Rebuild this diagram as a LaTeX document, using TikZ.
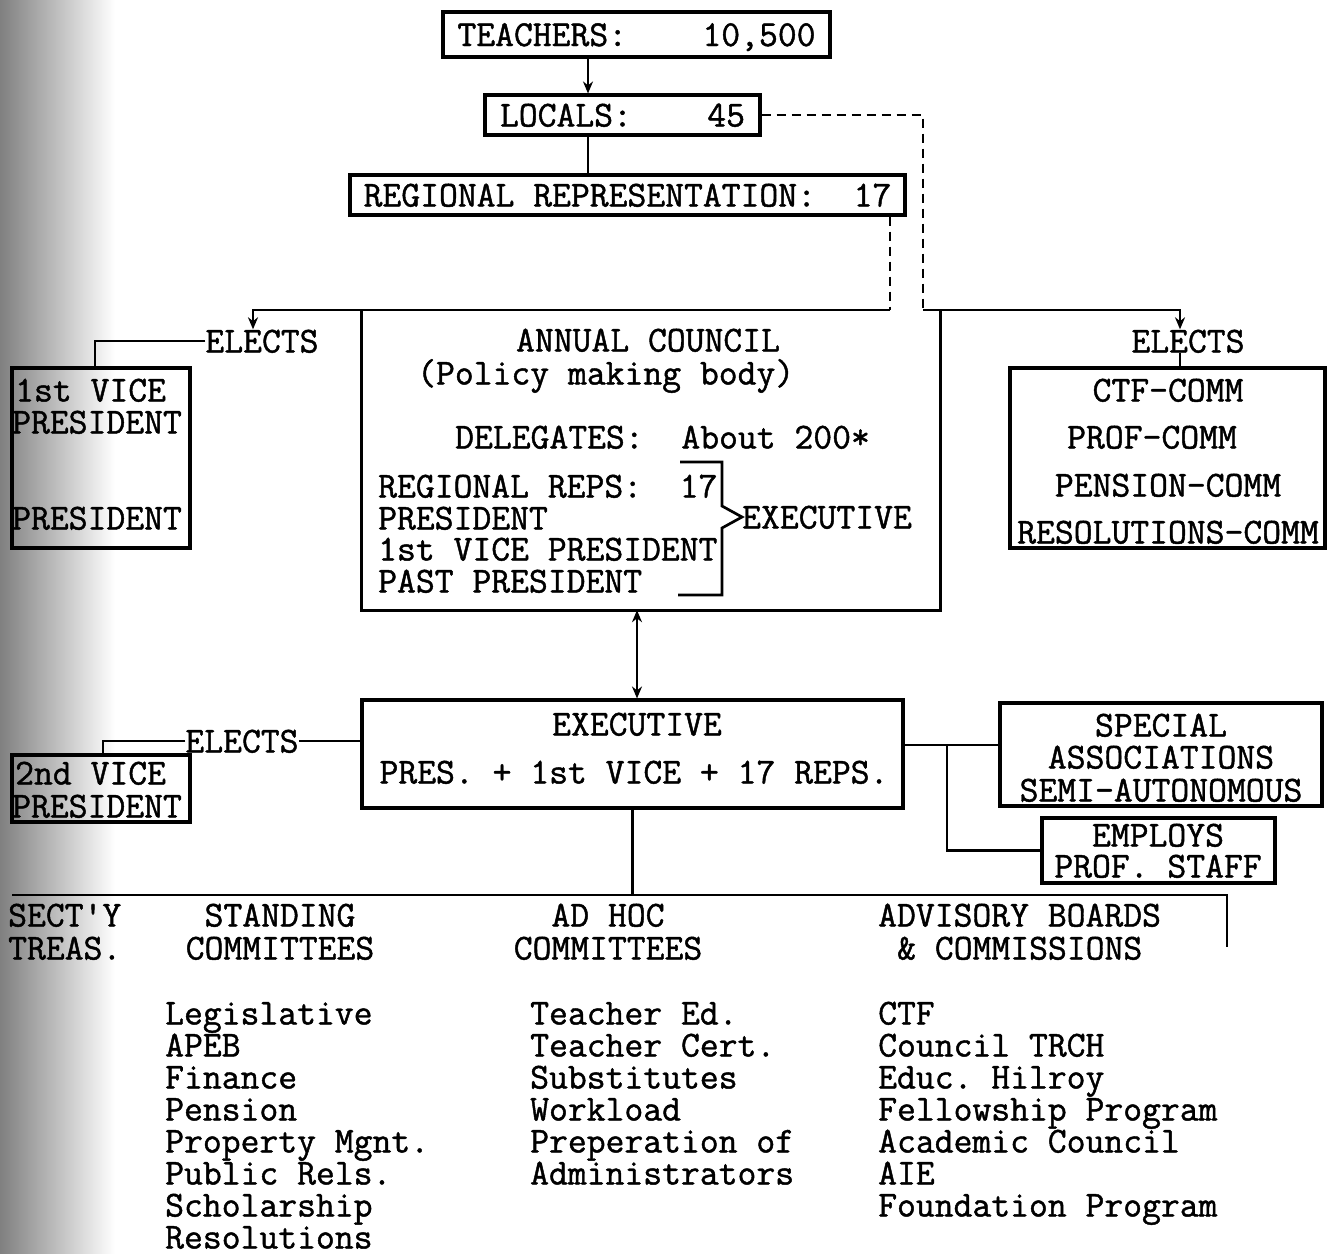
\documentclass[tikz,border=0pt]{standalone}
\usepackage{fontspec}
\setmonofont{Latin Modern Mono}[FakeBold=1.2]
\usetikzlibrary{arrows.meta}
\newcommand\tw{\fontsize{36.6}{32}\selectfont\ttfamily\frenchspacing}
\tikzset{
  txt/.style={font=\tw, inner sep=0pt, text height=23pt, text depth=0pt},
  boxnode/.style={draw, line width=3.1pt, inner sep=0pt, font=\tw, text height=23pt, text depth=0pt},
  blank/.style={inner sep=0pt},
  conn/.style={line width=2.7pt},
  boxline/.style={line width=3.1pt},
  tip/.style={-{Stealth[length=12pt,width=10pt]}},
  dtip/.style={{Stealth[length=12pt,width=10pt]}-{Stealth[length=12pt,width=10pt]}},
  dashline/.style={line width=2.7pt, dash pattern=on 9pt off 6pt},
}
\begin{document}
\begin{tikzpicture}[x=1pt,y=-1pt]
\useasboundingbox (0,0) rectangle (1337,1253);
\fill[white] (0,0) rectangle (1337,1253);
\shade[left color=black!50, right color=white] (0,0) rectangle (115,1253);

% coordinates
\coordinate (spine) at (588,0);
\coordinate (dr) at (890,0);
\coordinate (cornerL) at (890,310);
\coordinate (cornerR) at (923,310);
\coordinate (spine2) at (637,0);
\coordinate (jr) at (947,745);
\coordinate (hl) at (12,895);
\coordinate (hr) at (1227,895);
\coordinate (hre) at (1227,947);

% top chain
\node[boxnode, minimum width=387pt, minimum height=45pt] (teach) at (636.5,34.5) {TEACHERS:\ \ \ \ 10,500};
\node[boxnode, minimum width=275pt, minimum height=40pt] (locals) at (622.5,115) {LOCALS:\ \ \ \ 45};
\node[boxnode, minimum width=555pt, minimum height=40pt] (regional) at (627.5,195) {REGIONAL REPRESENTATION:\ \ 17};

\draw[conn,tip] (teach.south -| spine) -- (locals.north -| spine);
\draw[conn] (locals.south -| spine) -- (regional.north -| spine);

% annual council
\node[blank, minimum width=578pt, minimum height=300pt] (council) at (651,460) {};
\draw[boxline] (council.north west) -- (council.south west) -- (council.south east) -- (council.north east);
\node[txt] (ac1) at (648,340) {ANNUAL COUNCIL};
\node[txt, anchor=west] (ac2) at (417,373) {(Policy making body)};
\node[txt, anchor=west] (ac3) at (455,437) {DELEGATES:\ \ About 200*};
\node[txt, anchor=west] (ac4) at (378,486) {REGIONAL REPS:\ \ 17};
\node[txt, anchor=west] (ac5) at (378,518) {PRESIDENT};
\node[txt, anchor=west] (ac6) at (378,549) {1st VICE PRESIDENT};
\node[txt, anchor=west] (ac7) at (378,581) {PAST PRESIDENT};
\node[txt, anchor=west] (acx) at (742,517) {EXECUTIVE};
\draw[conn] (680,462) -- (722,462) -- (722,506) -- (acx.west) -- (722,528) -- (722,595) -- (678,595);

% dashed links
\draw[dashline] (regional.south -| dr) -- (cornerL);
\draw[dashline] (locals.east) -| (cornerR);

% left elects (annual council)
\node[txt] (el1) at (262,341) {ELECTS};
\node[boxnode, minimum width=178pt, minimum height=180pt] (vp1) at (101,458) {};
\node[txt, anchor=west] (vp1a) at (15,390) {1st VICE};
\node[txt, anchor=west] (vp1b) at (12,422) {PRESIDENT};
\node[txt, anchor=west] (vp1c) at (12,518) {PRESIDENT};
\draw[conn,tip] (cornerL) -| ([xshift=-9pt]el1.north);
\draw[conn] (el1.west) -| ([xshift=-6pt]vp1.north);

% right elects
\node[txt] (el2) at (1188,341) {ELECTS};
\node[boxnode, minimum width=315pt, minimum height=180pt] (comm) at (1167.5,458) {};
\node[txt] (c1) at (1168,390) {CTF-COMM};
\node[txt] (c2) at (1152,437) {PROF-COMM};
\node[txt] (c3) at (1168,485) {PENSION-COMM};
\node[txt] (c4) at (1168,532) {RESOLUTIONS-COMM};
\draw[conn,tip] (cornerR) -| ([xshift=-8pt]el2.north);
\draw[conn] ([xshift=-8pt]el2.south) -- ([xshift=-8pt]el2.south |- comm.north);

% executive
\node[boxnode, minimum width=541pt, minimum height=108pt] (exec) at (632.5,754) {};
\node[txt] (ex1) at (637,724) {EXECUTIVE};
\node[txt] (ex2) at (634,772) {PRES. + 1st VICE + 17 REPS.};
\draw[conn,dtip] (council.south -| spine2) -- (exec.north -| spine2);

% left elects (executive)
\node[txt] (el3) at (242,741) {ELECTS};
\node[boxnode, minimum width=178pt, minimum height=67pt] (vp2) at (101,788.5) {};
\node[txt, anchor=west] (vp2a) at (15,773) {2nd VICE};
\node[txt, anchor=west] (vp2b) at (12,806) {PRESIDENT};
\draw[conn] (el3.east) -- (el3.east -| exec.west);
\draw[conn] (el3.west) -| ([xshift=2pt]vp2.north);

% right side of executive
\node[boxnode, minimum width=322pt, minimum height=103pt] (sa) at (1161,754.5) {};
\node[txt] (sa1) at (1161,725) {SPECIAL};
\node[txt] (sa2) at (1161,757) {ASSOCIATIONS};
\node[txt] (sa3) at (1161,790) {SEMI-AUTONOMOUS};
\node[boxnode, minimum width=233pt, minimum height=65pt] (emp) at (1158.5,850.5) {};
\node[txt] (em1) at (1158,835) {EMPLOYS};
\node[txt] (em2) at (1158,866) {PROF. STAFF};
\draw[conn] (exec.east |- jr) -- (sa.west |- jr);
\draw[conn] (jr) |- (emp.west);

% bottom bar
\draw[conn] (exec.south) -- (exec.south |- hl);
\draw[conn] (hl) -- (hr) -- (hre);

\node[txt, anchor=west] (sec1) at (8,915) {SECT'Y};
\node[txt, anchor=west] (sec2) at (8,948) {TREAS.};
\node[txt] (st1) at (280,915) {STANDING};
\node[txt] (st2) at (280,948) {COMMITTEES};
\node[txt] (ah1) at (608,915) {AD HOC};
\node[txt] (ah2) at (608,948) {COMMITTEES};
\node[txt, anchor=west] (ad1) at (878,915) {ADVISORY BOARDS};
\node[txt, anchor=west] (ad2) at (897,948) {\& COMMISSIONS};

\foreach \t [count=\i] in {Legislative,APEB,Finance,Pension,Property Mgnt.,Public Rels.,Scholarship,Resolutions}
  \node[txt, anchor=west] (sl\i) at (165,1013+32*\i-32) {\t};
\foreach \t [count=\i] in {Teacher Ed.,Teacher Cert.,Substitutes,Workload,Preperation of,Administrators}
  \node[txt, anchor=west] (hl\i) at (530,1013+32*\i-32) {\t};
\foreach \t [count=\i] in {CTF,Council TRCH,Educ. Hilroy,Fellowship Program,Academic Council,AIE,Foundation Program}
  \node[txt, anchor=west] (al\i) at (878,1013+32*\i-32) {\t};
\end{tikzpicture}
\end{document}
